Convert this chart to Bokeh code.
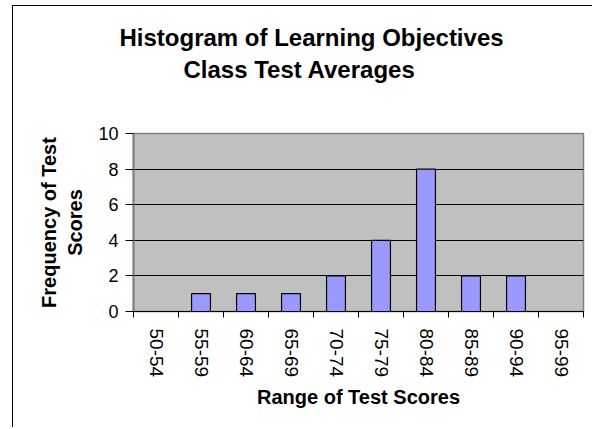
from bokeh.plotting import figure
from bokeh.models import Range1d, FixedTicker, ColumnDataSource, Title
from bokeh.embed import file_html
from bokeh.resources import INLINE

# ---- data ----
categories = ["50-54", "55-59", "60-64", "65-69", "70-74", "75-79", "80-84", "85-89", "90-94", "95-99"]
frequency = [0, 1, 1, 1, 2, 4, 8, 2, 2, 0]
y_ticks = [0, 2, 4, 6, 8, 10]
title_line1 = "Histogram of Learning Objectives"
title_line2 = "Class Test Averages"
x_title = "Range of Test Scores"
y_title = "Frequency of Test\nScores"

positions = [i + 0.5 for i in range(len(categories))]
boundaries = list(range(len(categories) + 1))

FONT = "Liberation Sans"

p = figure(width=580, height=422, output_backend="svg", toolbar_location=None,
           x_range=Range1d(0, len(categories)), y_range=Range1d(0, 10),
           min_border_left=120, min_border_right=10, min_border_top=127, min_border_bottom=117,
           tools="", title=None)
# chart-area border (left and top edges visible in the reference)
p.styles = {"margin-left": "12px", "margin-top": "5px",
            "border-left": "1px solid black", "border-top": "1px solid black"}

# spacer between the frame and the title block
p.add_layout(Title(text=" ", text_font_size="1px", standoff=46), "above")
t2 = Title(text=title_line2, align="left", offset=50, text_font=FONT, text_font_size="24px",
           text_font_style="bold", text_color="black", standoff=4)
t1 = Title(text=title_line1, align="left", offset=-14, text_font=FONT, text_font_size="24px",
           text_font_style="bold", text_color="black", standoff=2)
p.add_layout(t2, "above")
p.add_layout(t1, "above")

p.background_fill_color = "#C0C0C0"
p.border_fill_color = "white"
p.outline_line_color = "#808080"
p.outline_line_width = 1.5

src = ColumnDataSource(dict(x=positions, top=frequency))
p.vbar(x="x", top="top", width=0.42, source=src, fill_color="#9999FF", line_color="black", line_width=1.2)

# x axis
xa = p.xaxis[0]
xa.ticker = FixedTicker(ticks=positions, minor_ticks=boundaries)
xa.major_label_overrides = {pos: cat for pos, cat in zip(positions, categories)}
xa.major_label_orientation = "vertical"
xa.major_tick_in = 0
xa.major_tick_out = 0
xa.minor_tick_in = 0
xa.minor_tick_out = 6
xa.minor_tick_line_color = "black"
xa.axis_line_color = "black"
xa.axis_line_width = 1.2
xa.major_label_standoff = 11
xa.major_label_text_font = FONT
xa.major_label_text_font_size = "19px"
xa.major_label_text_color = "black"
xa.axis_label = x_title
xa.axis_label_text_font = FONT
xa.axis_label_text_font_size = "20px"
xa.axis_label_text_font_style = "bold"
xa.axis_label_text_color = "black"
xa.axis_label_standoff = 6

# y axis
ya = p.yaxis[0]
ya.ticker = FixedTicker(ticks=y_ticks, minor_ticks=[])
ya.major_tick_in = 0
ya.major_tick_out = 8
ya.major_tick_line_color = "black"
ya.axis_line_color = "#808080"
ya.axis_line_width = 2
ya.major_label_standoff = 7
ya.major_label_text_font = FONT
ya.major_label_text_font_size = "18px"
ya.major_label_text_color = "black"
ya.axis_label = y_title
ya.axis_label_text_font = FONT
ya.axis_label_text_font_size = "20px"
ya.axis_label_text_font_style = "bold"
ya.axis_label_text_color = "black"
ya.axis_label_text_line_height = 1.2
ya.axis_label_standoff = 9

p.xgrid.visible = False
p.ygrid.ticker = FixedTicker(ticks=y_ticks[1:-1])
p.ygrid.grid_line_color = "black"
p.ygrid.grid_line_width = 1

open("out.html", "w").write(file_html(p, INLINE))
